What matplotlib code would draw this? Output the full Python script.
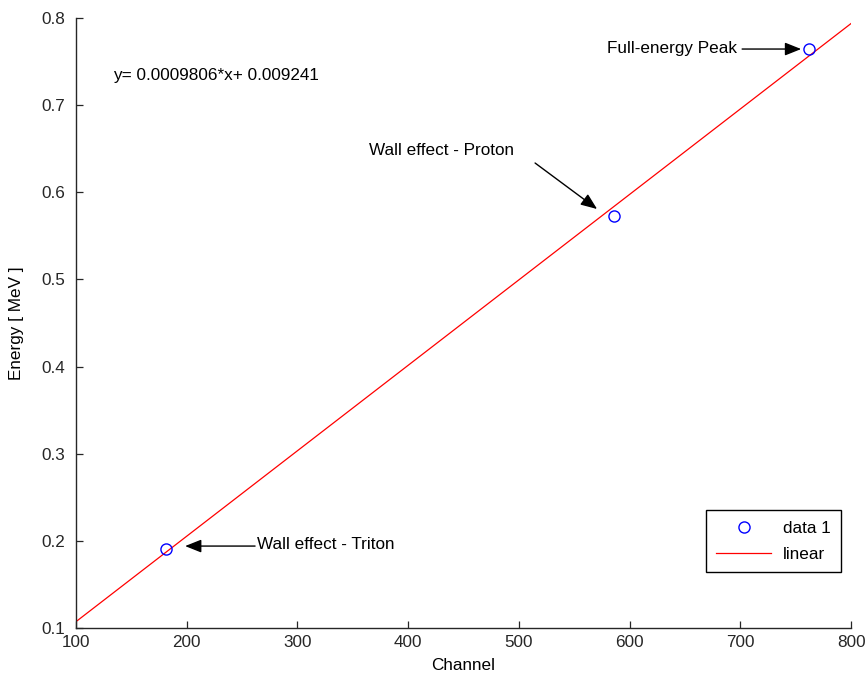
import numpy as np
import matplotlib
matplotlib.use("Agg")
import matplotlib.pyplot as plt

plt.rcParams['font.family'] = ['Liberation Sans', 'DejaVu Sans']

# calibration points: channel vs. known energy
channel = [181, 586, 762]
energy = [0.191, 0.573, 0.764]
peak_names = ['Wall effect - Triton', 'Wall effect - Proton', 'Full-energy Peak']

# linear fit coefficients
slope = 0.0009806
intercept = 0.009241
fit_range = [100, 800]

FS = 12.3

fig = plt.figure(figsize=(8.68, 6.8), dpi=100)
ax = fig.add_axes([0.0876, 0.0765, 0.8929, 0.897])

xs = np.array(fit_range, dtype=float)
ax.plot(channel, energy, 'o', mfc='none', mec='#0000ff', ms=8, mew=1.0,
        label='data 1', zorder=3)
ax.plot(xs, slope * xs + intercept, '-', color='#ff0000', lw=0.9,
        label='linear', zorder=2)

ax.set_xlim(100, 800)
ax.set_ylim(0.1, 0.8)
ax.set_xticks(np.arange(100, 801, 100))
ax.set_yticks(np.arange(0.1, 0.81, 0.1))
ax.set_yticklabels(['%.1f' % v for v in np.arange(0.1, 0.81, 0.1)])
ax.tick_params(direction='in', length=5, width=0.9, labelsize=FS,
               colors='#262626', pad=5)
ax.tick_params(axis='y', pad=8)
for side in ['top', 'right']:
    ax.spines[side].set_visible(False)
for side in ['left', 'bottom']:
    ax.spines[side].set_color('#262626')
    ax.spines[side].set_linewidth(1.0)

ax.set_xlabel('Channel', fontsize=FS, labelpad=6)
ax.set_ylabel('Energy [ MeV ]', fontsize=FS, labelpad=12)

ax.text(133.4, 0.7335, 'y= %.7f*x+ %.6f' % (slope, intercept),
        fontsize=FS, va='center', ha='left')

arrow = dict(arrowstyle='-|>,head_length=0.55,head_width=0.22', color='black',
             lw=1.0, mutation_scale=18, shrinkA=0, shrinkB=0)

# triton
ax.annotate('', xy=(198.5, 0.194), xytext=(261.7, 0.194), arrowprops=arrow)
ax.text(263.5, 0.1953, peak_names[0], fontsize=FS, va='center', ha='left')
# proton
ax.annotate('', xy=(570.6, 0.5808), xytext=(514.6, 0.6336), arrowprops=arrow)
ax.text(364.7, 0.6485, peak_names[1], fontsize=FS, va='center', ha='left')
# full energy
ax.annotate('', xy=(754.9, 0.7644), xytext=(701.6, 0.7644), arrowprops=arrow)
ax.text(697, 0.765, peak_names[2], fontsize=FS, va='center', ha='right')

leg = ax.legend(loc='lower right', bbox_to_anchor=(0.987, 0.0918),
                borderaxespad=0, fontsize=FS, fancybox=False,
                edgecolor='black', framealpha=1, handlelength=3.2,
                handletextpad=0.7, borderpad=0.6, labelspacing=0.65)
leg.get_frame().set_linewidth(1.0)

fig.savefig('out.png', dpi=100)
